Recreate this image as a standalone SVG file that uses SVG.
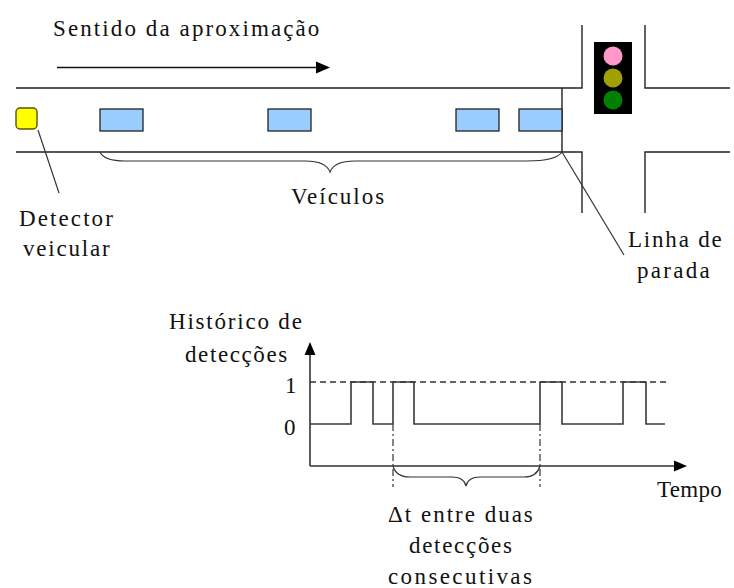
<svg xmlns="http://www.w3.org/2000/svg" width="734" height="588" viewBox="0 0 734 588">
<style>
.road{fill:none;stroke:#222;stroke-width:1.4}
.veh{fill:#99ccff;stroke:#222;stroke-width:1.3}
.thin{fill:none;stroke:#333;stroke-width:1.2}
.sig{fill:none;stroke:#3a3a3a;stroke-width:1.6}
.dash{fill:none;stroke:#333;stroke-width:1.3;stroke-dasharray:6 4}
.vdash{fill:none;stroke:#444;stroke-width:1.3;stroke-dasharray:7 3 2 3}
</style>
<rect width="734" height="588" fill="#fff"/>
<g id="road">
<path class="road" d="M16 88 H582 V25"/>
<path class="road" d="M645 25 V88 H730"/>
<path class="road" d="M16 152 H582 V213"/>
<path class="road" d="M645 213 V152 H730"/>
<path class="road" d="M562 88 V152"/>
</g>
<g id="direction">
<text x="53" y="36" font-family="Liberation Serif" font-size="23" fill="#111" letter-spacing="2.1">Sentido da aproximação</text>
<line x1="57" y1="67.5" x2="318" y2="67.5" stroke="#111" stroke-width="1.4"/>
<polygon points="330,67.5 316,61.5 316,73.5" fill="#000"/>
</g>
<g id="detector">
<rect x="16" y="108" width="21" height="21" rx="4" fill="#ffff00" stroke="#555500" stroke-width="1.4"/>
</g>
<g id="vehicles">
<rect class="veh" x="100" y="109" width="43" height="22"/>
<rect class="veh" x="268" y="109" width="43" height="22"/>
<rect class="veh" x="456" y="109" width="43" height="22"/>
<rect class="veh" x="519" y="109" width="43" height="22"/>
</g>
<g id="traffic-light">
<rect x="594" y="42" width="38" height="72" fill="#000"/>
<circle cx="613" cy="56" r="9.5" fill="#ff99cc"/>
<circle cx="613" cy="78" r="9.5" fill="#a0a000"/>
<circle cx="613" cy="100" r="9.5" fill="#008000"/>
</g>
<g id="connectors">
<line class="thin" x1="38" y1="130" x2="59" y2="193"/>
<line class="thin" x1="562" y1="152" x2="624" y2="255"/>
<path class="thin" d="M100 152 Q104 161 125 161 H305 Q326 161 330 172 Q334 161 355 161 H527 Q556 161 562 152"/>
<path class="thin" d="M393 466 Q396 477 410 477 H452 Q464 477 466 486 Q468 477 480 477 H524 Q537 477 540 466"/>
</g>
<g id="labels">
<text x="291" y="204" font-family="Liberation Serif" font-size="23" fill="#111" letter-spacing="2">Veículos</text>
<text x="19" y="226" font-family="Liberation Serif" font-size="23" fill="#111" letter-spacing="2.1">Detector</text>
<text x="23" y="256" font-family="Liberation Serif" font-size="23" fill="#111" letter-spacing="1.8">veicular</text>
<text x="628" y="247" font-family="Liberation Serif" font-size="23" fill="#111" letter-spacing="1.8">Linha de</text>
<text x="637" y="278" font-family="Liberation Serif" font-size="23" fill="#111" letter-spacing="2.3">parada</text>
</g>
<g id="chart">
<line x1="310" y1="466" x2="310" y2="353" stroke="#333" stroke-width="1.6"/>
<polygon points="310,342 304.5,355 315.5,355" fill="#000"/>
<line x1="310" y1="466" x2="676" y2="466" stroke="#333" stroke-width="1.6"/>
<polygon points="687,466 674,460.5 674,471.5" fill="#000"/>
<line class="dash" x1="310" y1="382" x2="668" y2="382"/>
<polyline class="sig" points="310,424 351,424 351,382 373,382 373,424 393,424 393,382 414,382 414,424 540,424 540,382 562,382 562,424 623,424 623,382 646,382 646,424 665,424"/>
<line class="vdash" x1="393" y1="424" x2="393" y2="487"/>
<line class="vdash" x1="540" y1="424" x2="540" y2="487"/>
<text x="169" y="329" font-family="Liberation Serif" font-size="23" fill="#111" letter-spacing="1.8">Histórico de</text>
<text x="185" y="362" font-family="Liberation Serif" font-size="23" fill="#111" letter-spacing="1.6">detecções</text>
<text x="285" y="393" font-family="Liberation Serif" font-size="23" fill="#111">1</text>
<text x="284" y="435" font-family="Liberation Serif" font-size="23" fill="#111">0</text>
<text x="657" y="497" font-family="Liberation Serif" font-size="23" fill="#111" letter-spacing="0.3">Tempo</text>
<text x="388" y="522" font-family="Liberation Serif" font-size="23" fill="#111" letter-spacing="2">Δt entre duas</text>
<text x="409" y="553" font-family="Liberation Serif" font-size="23" fill="#111" letter-spacing="1.7">detecções</text>
<text x="388" y="584" font-family="Liberation Serif" font-size="23" fill="#111" letter-spacing="2.4">consecutivas</text>
</g>
</svg>
